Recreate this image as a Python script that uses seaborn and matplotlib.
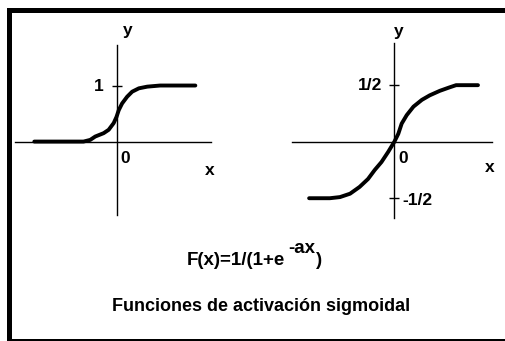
import matplotlib
matplotlib.use("Agg")
import matplotlib.pyplot as plt
import seaborn as sns
from matplotlib.patches import Rectangle

# curve points (x in arbitrary units)
left_x = [-1.48, -0.60, -0.48, -0.39, -0.24, -0.15, -0.06, -0.01, 0.03, 0.09, 0.18, 0.27, 0.39, 0.54, 0.77, 1.40]
left_y = [0.0, 0.0, 0.03, 0.09, 0.15, 0.21, 0.33, 0.44, 0.56, 0.68, 0.80, 0.89, 0.95, 0.98, 1.0, 1.0]

right_x = [-1.52, -1.15, -0.97, -0.79, -0.62, -0.47, -0.35, -0.23, -0.11, 0.0,
           0.07, 0.13, 0.22, 0.34, 0.49, 0.63, 0.81, 0.98, 1.10, 1.49]
right_y = [-0.5, -0.5, -0.49, -0.46, -0.40, -0.33, -0.25, -0.18, -0.09, 0.0,
           0.07, 0.16, 0.235, 0.31, 0.37, 0.41, 0.45, 0.48, 0.5, 0.5]

left_ticks = [1]
right_ticks = [0.5, -0.5]

formula_base = "F(x)=1/(1+e"
formula_exp = "-ax"
formula_end = ")"
caption = "Funciones de activación sigmoidal"

sns.set_style("white")
plt.rcParams['font.family'] = ['Liberation Sans', 'DejaVu Sans']
plt.rcParams['font.weight'] = 'bold'
plt.rcParams['text.color'] = 'black'

W, H = 506, 341
fig = plt.figure(figsize=(W / 100, H / 100), dpi=100)


def px_box(x0, y0, x1, y1):
    # pixel box (top-left origin) -> figure fraction rect
    return [x0 / W, (H - y1) / H, (x1 - x0) / W, (y1 - y0) / H]


def setup(ax):
    for s in ['top', 'right']:
        ax.spines[s].set_visible(False)
    for s in ['left', 'bottom']:
        ax.spines[s].set_position(('data', 0))
        ax.spines[s].set_linewidth(1.0)
        ax.spines[s].set_color('black')
    ax.set_xticks([])
    ax.tick_params(axis='y', left=True, direction='inout', length=7, width=1.0,
                   color='black', labelleft=False)
    ax.set_facecolor('none')


fs = 12.5

# left panel
ax1 = fig.add_axes(px_box(15, 45, 211, 215))
sns.lineplot(x=left_x, y=left_y, ax=ax1, color='black', linewidth=2.8)
ax1.set_xlim(-1.825, 1.68)
ax1.set_ylim(-1.31, 1.723)
setup(ax1)
ax1.set_yticks(left_ticks)
ax1.text(0.19, 1.99, "y", ha='center', va='center', fontsize=fs)
ax1.text(-0.33, 0.98, "1", ha='center', va='center', fontsize=fs)
ax1.text(0.14, -0.31, "0", ha='center', va='center', fontsize=fs)
ax1.text(1.65, -0.51, "x", ha='center', va='center', fontsize=fs)

# right panel
ax2 = fig.add_axes(px_box(292, 43, 492, 218))
sns.lineplot(x=right_x, y=right_y, ax=ax2, color='black', linewidth=2.8)
ax2.set_xlim(-1.825, 1.74)
ax2.set_ylim(-0.675, 0.873)
setup(ax2)
ax2.set_yticks(right_ticks)
ax2.text(0.07, 0.976, "y", ha='center', va='center', fontsize=fs)
ax2.text(-0.22, 0.5, "1/2", ha='right', va='center', fontsize=fs)
ax2.text(0.15, -0.151, "0", ha='center', va='center', fontsize=fs)
ax2.text(1.70, -0.225, "x", ha='center', va='center', fontsize=fs)
ax2.text(0.14, -0.52, "-1/2", ha='left', va='center', fontsize=fs)

# formula: base text, raised exponent, closing paren
ffs = 13.5
renderer = fig.canvas.get_renderer()
t1 = fig.text(187 / W, (H - 265) / H, formula_base, ha='left', va='baseline', fontsize=ffs)
x_end = t1.get_window_extent(renderer).x1
t2 = fig.text((x_end + 3) / W, (H - 253) / H, formula_exp, ha='left', va='baseline', fontsize=ffs)
x_end = t2.get_window_extent(renderer).x1
fig.text((x_end + 1) / W, (H - 265) / H, formula_end, ha='left', va='baseline', fontsize=ffs)

fig.text(261 / W, (H - 311) / H, caption, ha='center', va='baseline', fontsize=13)

# picture frame: thick top and left, thin bottom
fig.add_artist(Rectangle((7 / W, (H - 13) / H), (W - 7) / W, 5 / H,
                         transform=fig.transFigure, color='black', lw=0))
fig.add_artist(Rectangle((7 / W, (H - 340) / H), 5 / W, 332 / H,
                         transform=fig.transFigure, color='black', lw=0))
fig.add_artist(Rectangle((7 / W, (H - 340.5) / H), (W - 7) / W, 1.5 / H,
                         transform=fig.transFigure, color='black', lw=0))

fig.savefig("out.png", dpi=100, facecolor='white')
